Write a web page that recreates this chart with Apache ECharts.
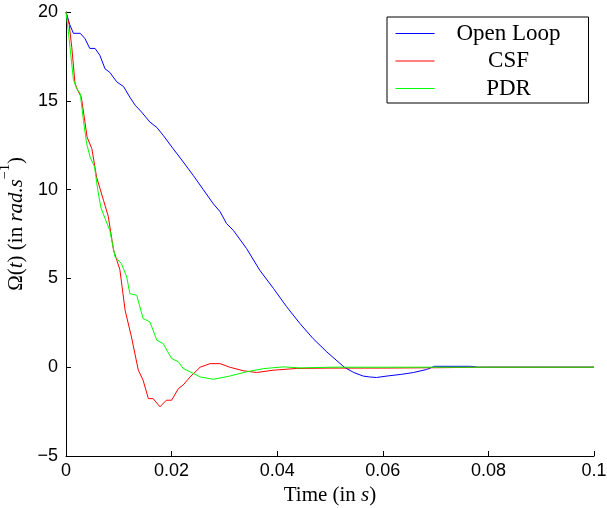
<!DOCTYPE html>
<html>
<head>
<meta charset="utf-8">
<script src="https://cdn.jsdelivr.net/npm/echarts@6/dist/echarts.min.js"></script>
<style>
html,body{margin:0;padding:0;background:#fff;}
#chart{width:607px;height:508px;}
</style>
</head>
<body>
<div id="chart"></div>
<script>
// ---- data ----
const seriesNames = ['Open Loop', 'CSF', 'PDR'];
const seriesColors = ['#0000ff', '#ff0000', '#00ff00'];

const openLoopT = [0, 0.0007, 0.0014, 0.0027, 0.0036, 0.0045, 0.0055, 0.0064, 0.0074, 0.0083, 0.0096, 0.0109, 0.0121, 0.0131, 0.0143, 0.0159, 0.0172, 0.0184, 0.0203, 0.0222, 0.0241, 0.026, 0.0279, 0.0292, 0.0304, 0.0317, 0.0342, 0.0367, 0.0393, 0.0418, 0.0443, 0.0468, 0.0494, 0.0527, 0.0545, 0.0563, 0.0575, 0.0588, 0.061, 0.0636, 0.0658, 0.0683, 0.0698, 0.0766, 0.078, 0.09, 0.1];
const openLoopV = [20, 19.3, 18.8, 18.8, 18.5, 17.95, 17.95, 17.57, 16.8, 16.6, 16.07, 15.8, 15.2, 14.75, 14.37, 13.8, 13.5, 13.06, 12.3, 11.56, 10.8, 10.0, 9.2, 8.75, 8.09, 7.7, 6.68, 5.46, 4.43, 3.4, 2.46, 1.61, 0.86, 0, -0.3, -0.5, -0.55, -0.58, -0.49, -0.4, -0.3, -0.13, 0.05, 0.05, 0, 0, 0];

const csfT = [0, 0.0006, 0.0011, 0.0017, 0.0022, 0.0029, 0.0034, 0.004, 0.0049, 0.0058, 0.0071, 0.008, 0.009, 0.0102, 0.0112, 0.0124, 0.0137, 0.0146, 0.0156, 0.0165, 0.0178, 0.019, 0.02, 0.0213, 0.0222, 0.0235, 0.0254, 0.0273, 0.0292, 0.031, 0.0336, 0.0361, 0.0392, 0.0437, 0.05, 0.06, 0.07, 0.08, 0.1];
const csfV = [20, 19.3, 18.0, 16.0, 15.6, 15.2, 14.2, 12.95, 12.3, 10.7, 9.4, 8.5, 6.6, 5.5, 3.2, 1.7, -0.17, -0.73, -1.77, -1.77, -2.23, -1.86, -1.86, -1.2, -1.0, -0.55, 0, 0.2, 0.2, 0, -0.2, -0.3, -0.17, -0.07, -0.05, -0.05, -0.03, 0, 0];

const pdrT = [0, 0.0004, 0.0008, 0.0014, 0.002, 0.0027, 0.0033, 0.0039, 0.0046, 0.0054, 0.006, 0.0066, 0.0074, 0.0083, 0.0093, 0.0105, 0.0115, 0.0121, 0.0134, 0.0146, 0.0159, 0.0172, 0.0184, 0.02, 0.0213, 0.0222, 0.0235, 0.0254, 0.0279, 0.031, 0.0342, 0.0374, 0.0412, 0.0443, 0.05, 0.1];
const pdrV = [20, 19.0, 17.9, 16.2, 15.7, 15.4, 13.9, 12.6, 11.8, 11.3, 10.0, 9.0, 8.37, 7.7, 6.2, 5.83, 5.08, 4.14, 4.05, 2.74, 2.55, 1.52, 1.33, 0.49, 0.3, -0.07, -0.26, -0.55, -0.68, -0.5, -0.26, -0.08, 0.02, -0.04, 0, 0];

const xTicks = {min: 0, max: 0.1, interval: 0.02};
const yTicks = {min: -5, max: 20, interval: 5};

// ---- chart ----
const zip = (t, v) => t.map((x, i) => [x, v[i]]);
const allData = [zip(openLoopT, openLoopV), zip(csfT, csfV), zip(pdrT, pdrV)];

const chart = echarts.init(document.getElementById('chart'), null, {renderer: 'canvas'});
const sansFont = 'Liberation Sans';
const serifFont = 'Liberation Serif';

chart.setOption({
  animation: false,
  backgroundColor: '#fff',
  grid: {left: 66, right: 13, top: 12, bottom: 52, containLabel: false, outerBoundsMode: 'none'},
  legend: {
    orient: 'vertical',
    left: 387, top: 17,
    padding: [5, 11, 3, 8],
    itemGap: 4.5,
    itemWidth: 39, itemHeight: 14,
    borderColor: '#000', borderWidth: 1,
    backgroundColor: '#fff',
    data: seriesNames.map((n, i) => ({
      name: n,
      itemStyle: {color: seriesColors[i], opacity: 0, borderWidth: 0},
      lineStyle: {color: seriesColors[i], width: 1, opacity: 1}
    })),
    formatter: n => '{c|' + n + '}',
    textStyle: {
      lineHeight: 22,
      rich: {c: {width: 138, height: 22, align: 'center', fontSize: 23, fontFamily: serifFont, color: '#000', lineHeight: 22}}
    }
  },
  xAxis: {
    type: 'value', min: xTicks.min, max: xTicks.max, interval: xTicks.interval,
    name: '{r|Time (in }{i|s}{r|)}', nameLocation: 'middle', nameGap: 26,
    nameTextStyle: {rich: {
      r: {fontFamily: serifFont, fontSize: 21, color: '#000'},
      i: {fontFamily: serifFont, fontSize: 21, fontStyle: 'italic', color: '#000'}
    }},
    axisLine: {show: true, onZero: false, lineStyle: {color: '#000', width: 1}},
    axisTick: {show: true, inside: true, length: 5, lineStyle: {color: '#000'}},
    axisLabel: {fontFamily: sansFont, fontSize: 18, color: '#000', margin: 6},
    splitLine: {show: false}
  },
  yAxis: {
    type: 'value', min: yTicks.min, max: yTicks.max, interval: yTicks.interval,
    name: '{r|Ω(}{i|t}{r|) (in }{i|rad.s}{sup|−1}{r|)}', nameLocation: 'middle', nameGap: 21,
    nameTextStyle: {padding: [0, 0, 0, 20], rich: {
      r: {fontFamily: serifFont, fontSize: 21, color: '#000', lineHeight: 28, verticalAlign: 'bottom'},
      i: {fontFamily: serifFont, fontSize: 21, fontStyle: 'italic', color: '#000', lineHeight: 28, verticalAlign: 'bottom'},
      sup: {fontFamily: serifFont, fontSize: 14, color: '#000', lineHeight: 16, verticalAlign: 'top'}
    }},
    axisLine: {show: true, onZero: false, lineStyle: {color: '#000', width: 1}},
    axisTick: {show: true, inside: true, length: 5, lineStyle: {color: '#000'}},
    axisLabel: {fontFamily: sansFont, fontSize: 18, color: '#000', margin: 8,
      formatter: v => String(v).replace('-', '−')},
    splitLine: {show: false}
  },
  series: seriesNames.map((n, i) => ({
    name: n, type: 'line', data: allData[i],
    showSymbol: false, symbol: 'none',
    lineStyle: {color: seriesColors[i], width: 1},
    itemStyle: {color: seriesColors[i]},
    z: 2 + i
  }))
});
</script>
</body>
</html>
